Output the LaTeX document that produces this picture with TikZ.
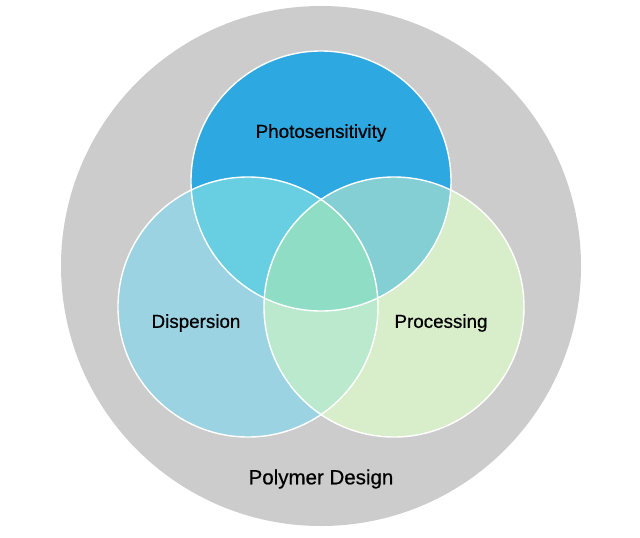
\documentclass[tikz,border=0pt]{standalone}
\usepackage{fontspec}
\setmainfont{Liberation Sans}
\newfontfamily\lblfont[BoldFont={Liberation Sans},BoldFeatures={FakeBold=0.6}]{Liberation Sans}
\definecolor{outergray}{RGB}{204,204,204}
\definecolor{topblue}{RGB}{46,168,224}
\definecolor{leftblue}{RGB}{155,211,227}
\definecolor{rightgreen}{RGB}{216,237,201}
\definecolor{tlmix}{RGB}{104,207,227}
\definecolor{trmix}{RGB}{132,207,212}
\definecolor{lrmix}{RGB}{186,233,206}
\definecolor{allmix}{RGB}{142,221,196}
\begin{document}
\begin{tikzpicture}[x=1pt,y=-1pt,
  setcircle/.style={circle,minimum size=260pt,inner sep=0pt},
  outline/.style={draw=white,line width=1.4pt},
  label/.style={font=\lblfont\bfseries\fontsize{18.8}{22}\selectfont,text=black,inner sep=0pt}]
\useasboundingbox (0,0) rectangle (640,538);
\node[circle,minimum size=520pt,inner sep=0pt,fill=outergray] (outer) at (321,266) {};
\node[setcircle,fill=topblue] (top) at (321,181) {};
\node[setcircle,fill=leftblue] (left) at (248,307) {};
\node[setcircle,fill=rightgreen] (right) at (394,307) {};
\begin{scope}
  \clip (321,181) circle (130);
  \fill[tlmix] (248,307) circle (130);
  \fill[trmix] (394,307) circle (130);
\end{scope}
\begin{scope}
  \clip (248,307) circle (130);
  \fill[lrmix] (394,307) circle (130);
  \clip (394,307) circle (130);
  \fill[allmix] (321,181) circle (130);
\end{scope}
\node[setcircle,outline] at (top) {};
\node[setcircle,outline] at (left) {};
\node[setcircle,outline] at (right) {};
\node[label] (lphoto) at (321,133) {Photosensitivity};
\node[label] (ldisp) at (196,323) {Dispersion};
\node[label] (lproc) at (441,323) {Processing};
\node[label,font=\lblfont\bfseries\fontsize{20.5}{24}\selectfont] (lpoly) at (321,479) {Polymer Design};
\end{tikzpicture}
\end{document}
